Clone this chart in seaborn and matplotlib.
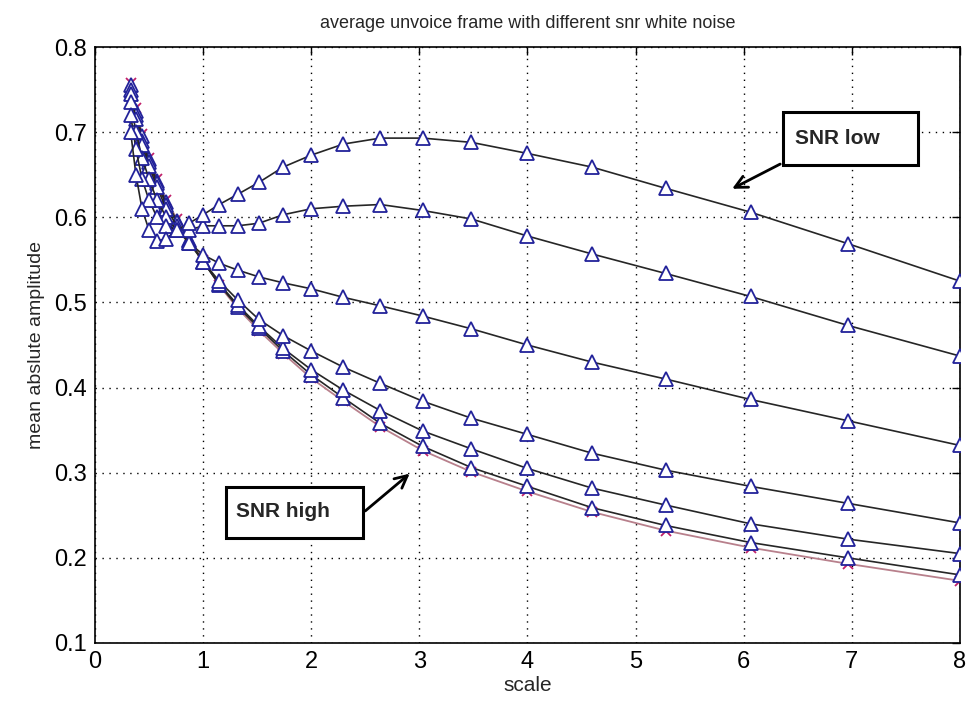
import matplotlib
matplotlib.use("Agg")
import matplotlib.pyplot as plt
import seaborn as sns
import pandas as pd
from matplotlib.patches import Rectangle

scale = [0.33, 0.379, 0.435, 0.5, 0.574, 0.66, 0.758, 0.871, 1.0, 1.149, 1.32, 1.516,
         1.741, 2.0, 2.297, 2.639, 3.031, 3.482, 4.0, 4.595, 5.278, 6.063, 6.964, 8.0]

snr1 = [0.70, 0.65, 0.61, 0.585, 0.572, 0.575, 0.585, 0.593, 0.603, 0.615, 0.627, 0.641,
        0.659, 0.673, 0.686, 0.693, 0.693, 0.688, 0.675, 0.659, 0.634, 0.606, 0.569, 0.525]
snr2 = [0.72, 0.68, 0.645, 0.62, 0.60, 0.59, 0.585, 0.585, 0.59, 0.59, 0.59, 0.593,
        0.603, 0.61, 0.613, 0.615, 0.608, 0.598, 0.578, 0.557, 0.534, 0.507, 0.473, 0.437]
snr3 = [0.735, 0.70, 0.67, 0.645, 0.62, 0.60, 0.585, 0.57, 0.556, 0.546, 0.538, 0.530,
        0.523, 0.516, 0.506, 0.496, 0.484, 0.469, 0.450, 0.430, 0.410, 0.386, 0.361, 0.332]
snr4 = [0.745, 0.715, 0.685, 0.66, 0.635, 0.61, 0.59, 0.57, 0.548, 0.525, 0.503, 0.480,
        0.461, 0.443, 0.424, 0.405, 0.384, 0.364, 0.345, 0.323, 0.303, 0.284, 0.264, 0.241]
snr5 = [0.75, 0.72, 0.69, 0.665, 0.64, 0.615, 0.594, 0.572, 0.548, 0.522, 0.497, 0.472,
        0.446, 0.421, 0.397, 0.373, 0.349, 0.328, 0.305, 0.282, 0.262, 0.240, 0.222, 0.205]
snr6 = [0.755, 0.725, 0.695, 0.668, 0.643, 0.618, 0.596, 0.573, 0.548, 0.521, 0.495, 0.470,
        0.443, 0.415, 0.388, 0.358, 0.331, 0.306, 0.284, 0.259, 0.238, 0.218, 0.200, 0.180]
clean = [0.758, 0.728, 0.698, 0.67, 0.645, 0.62, 0.598, 0.575, 0.55, 0.52, 0.493, 0.467,
         0.44, 0.411, 0.384, 0.354, 0.326, 0.301, 0.278, 0.254, 0.232, 0.212, 0.193, 0.173]

noisy_series = [snr1, snr2, snr3, snr4, snr5, snr6]

title = "average unvoice frame with different snr white noise"
xlabel = "scale"
ylabel = "mean abslute amplitude"
xticks = [0, 1, 2, 3, 4, 5, 6, 7, 8]
yticks = [0.1, 0.2, 0.3, 0.4, 0.5, 0.6, 0.7, 0.8]

sns.set_style("white")
plt.rcParams['font.family'] = ['Liberation Sans', 'DejaVu Sans']

fig = plt.figure(figsize=(9.74, 7.09), dpi=100)
ax = fig.add_axes([0.0975, 0.0931, 0.8881, 0.8406])

# clean signal (red x)
sns.lineplot(x=scale, y=clean, ax=ax, color="#b8808c", lw=1.3, marker="x",
             markersize=7, markeredgecolor="#c0206a", markeredgewidth=1.3,
             zorder=3, sort=False)

for s in noisy_series[::-1]:
    sns.lineplot(x=scale, y=s, ax=ax, color="#262626", lw=1.2, marker="^",
                 markersize=10, markerfacecolor="white", markeredgecolor="#22229a",
                 markeredgewidth=1.3, zorder=4, sort=False)

ax.set_xlim(0, 8)
ax.set_ylim(0.1, 0.8)
ax.set_xticks(xticks)
ax.set_yticks(yticks)
ax.set_xticklabels([str(t) for t in xticks])
ax.set_yticklabels([f"{t:.1f}" for t in yticks])
ax.tick_params(direction="in", length=6, width=1, top=True, right=True,
               labelsize=17, colors="black", pad=6)
ax.grid(True, linestyle=(0, (1, 4)), color="black", lw=1.0)
for sp in ax.spines.values():
    sp.set_visible(True)
    sp.set_color("black")
    sp.set_linewidth(1.2)

ax.set_title(title, fontsize=13, pad=14)
ax.set_xlabel(xlabel, fontsize=15, labelpad=2)
ax.set_ylabel(ylabel, fontsize=14, labelpad=6)

# annotations
ax.add_patch(Rectangle((6.36, 0.661), 1.25, 0.063, fill=True, facecolor="white",
                       edgecolor="black", lw=2.2, zorder=6))
ax.text(6.47, 0.6925, "SNR low", fontsize=15, fontweight="bold", va="center",
        ha="left", zorder=7)
ax.annotate("", xy=(5.87, 0.632), xytext=(6.36, 0.664),
            arrowprops=dict(arrowstyle="->", color="black", lw=2.0,
                            mutation_scale=22), zorder=7)

ax.add_patch(Rectangle((1.21, 0.223), 1.27, 0.060, fill=True, facecolor="white",
                       edgecolor="black", lw=2.2, zorder=6))
ax.text(1.30, 0.254, "SNR high", fontsize=15, fontweight="bold", va="center",
        ha="left", zorder=7)
ax.annotate("", xy=(2.93, 0.301), xytext=(2.48, 0.253),
            arrowprops=dict(arrowstyle="->", color="black", lw=2.0,
                            mutation_scale=22), zorder=7)

fig.savefig("out.png", dpi=100)
